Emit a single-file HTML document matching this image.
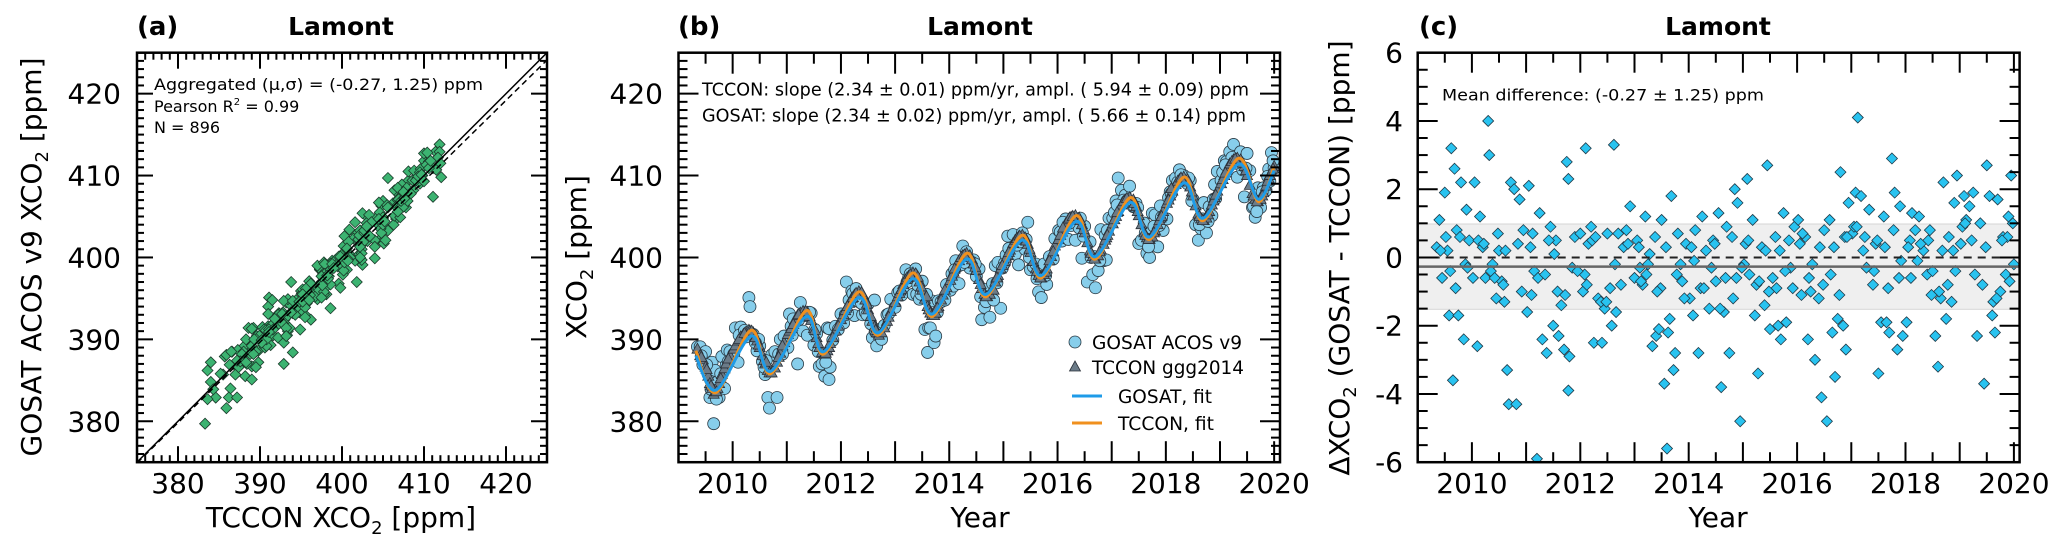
<!DOCTYPE html>
<html><head><meta charset="utf-8"><style>
html,body{margin:0;padding:0;background:#fff;}
svg{display:block;font-family:"DejaVu Sans","Liberation Sans",sans-serif;}
</style></head><body>
<svg id="fig" width="2067" height="546" viewBox="0 0 2067 546" xmlns="http://www.w3.org/2000/svg">
<defs>
<clipPath id="clipA"><rect x="137" y="52.7" width="410" height="409.5"/></clipPath>
<clipPath id="clipB"><rect x="678.5" y="52.7" width="601.5" height="409.5"/></clipPath>
<clipPath id="clipC"><rect x="1417.7" y="52.7" width="601.9" height="409.5"/></clipPath>
</defs>
<text x="137" y="35" font-size="26" font-weight="bold">(a)</text>
<text x="341" y="35" font-size="25" font-weight="bold" text-anchor="middle">Lamont</text>
<text x="678" y="35" font-size="26" font-weight="bold">(b)</text>
<text x="980" y="35" font-size="25" font-weight="bold" text-anchor="middle">Lamont</text>
<text x="1419" y="35" font-size="26" font-weight="bold">(c)</text>
<text x="1718" y="35" font-size="25" font-weight="bold" text-anchor="middle">Lamont</text>
<text transform="translate(41,257) rotate(-90)" font-size="28" text-anchor="middle">GOSAT ACOS v9 XCO<tspan font-size="18" dy="7">2</tspan><tspan dy="-7"> [ppm]</tspan></text>
<text x="341" y="527" font-size="28" text-anchor="middle">TCCON XCO<tspan font-size="18" dy="7">2</tspan><tspan dy="-7"> [ppm]</tspan></text>
<text transform="translate(586,257) rotate(-90)" font-size="28" text-anchor="middle">XCO<tspan font-size="18" dy="7">2</tspan><tspan dy="-7"> [ppm]</tspan></text>
<text x="980" y="527" font-size="28" text-anchor="middle">Year</text>
<text transform="translate(1349,258) rotate(-90)" font-size="28" text-anchor="middle">ΔXCO<tspan font-size="18" dy="7">2</tspan><tspan dy="-7"> (GOSAT - TCCON) [ppm]</tspan></text>
<text x="1718" y="527" font-size="28" text-anchor="middle">Year</text>
<g id="gA"></g><g id="gB"></g><g id="gC"></g>
</svg>
<script>
const years=[2009.35,2009.40,2009.45,2009.50,2009.55,2009.58,2009.62,2009.65,2009.68,2009.72,2009.75,2009.80,2009.85,2009.90,2009.95,2009.42,2009.60,2009.78,2009.88,
2010.02,2010.05,2010.10,2010.15,2010.20,2010.25,2010.30,2010.32,2010.38,2010.45,2010.50,2010.55,2010.60,2010.65,2010.68,2010.72,2010.78,2010.82,2010.88,2010.95,2010.12,2010.35,2010.48,2010.58,2010.85,
2011.02,2011.05,2011.10,2011.15,2011.20,2011.25,2011.30,2011.38,2011.45,2011.50,2011.55,2011.60,2011.65,2011.70,2011.75,2011.78,2011.78,2011.80,2011.90,2011.08,2011.22,2011.42,2011.58,2011.85,
2012.00,2012.05,2012.10,2012.15,2012.20,2012.25,2012.33,2012.40,2012.45,2012.50,2012.58,2012.62,2012.66,2012.70,2012.75,2012.85,2012.92,2012.08,2012.22,2012.38,2012.55,2012.80,
2013.00,2013.05,2013.10,2013.15,2013.20,2013.25,2013.33,2013.40,2013.45,2013.50,2013.55,2013.60,2013.62,2013.65,2013.68,2013.72,2013.75,2013.80,2013.88,2013.95,2013.08,2013.22,2013.38,2013.48,2013.85,
2014.02,2014.08,2014.12,2014.18,2014.25,2014.32,2014.38,2014.45,2014.50,2014.55,2014.60,2014.65,2014.70,2014.75,2014.80,2014.85,2014.90,2014.95,2014.05,2014.22,2014.42,2014.58,2014.88,
2015.02,2015.08,2015.12,2015.18,2015.22,2015.28,2015.35,2015.40,2015.45,2015.50,2015.55,2015.60,2015.65,2015.70,2015.75,2015.80,2015.88,2015.95,2015.05,2015.25,2015.42,2015.62,2015.85,
2016.02,2016.08,2016.15,2016.20,2016.25,2016.33,2016.40,2016.45,2016.50,2016.55,2016.60,2016.65,2016.70,2016.75,2016.80,2016.85,2016.90,2016.95,2016.05,2016.22,2016.42,2016.62,2016.88,
2017.02,2017.08,2017.12,2017.18,2017.25,2017.33,2017.40,2017.45,2017.50,2017.55,2017.60,2017.65,2017.70,2017.75,2017.80,2017.85,2017.90,2017.95,2017.05,2017.22,2017.42,2017.62,2017.88,
2018.02,2018.08,2018.12,2018.18,2018.25,2018.33,2018.40,2018.45,2018.50,2018.55,2018.60,2018.65,2018.70,2018.75,2018.80,2018.85,2018.90,2018.95,2018.05,2018.22,2018.42,2018.62,2018.88,
2019.02,2019.08,2019.12,2019.18,2019.25,2019.32,2019.38,2019.45,2019.50,2019.55,2019.60,2019.65,2019.70,2019.75,2019.80,2019.85,2019.90,2019.95,2020.00,2019.05,2019.22,2019.42,2019.62,2019.88,
2009.52,2009.70,2009.92,2010.22,2010.42,2010.62,2010.92,2011.12,2011.35,2011.52,2011.72,2011.95,2012.12,2012.28,2012.48,2012.64,2012.88,2013.12,2013.28,2013.42,2013.58,2013.78,2013.92,2014.10,2014.28,2014.48,2014.68,2014.82,2014.98,2015.10,2015.30,2015.48,2015.68,2015.78,2015.92,2016.10,2016.28,2016.48,2016.68,2016.78,2016.92,2017.10,2017.28,2017.48,2017.68,2017.78,2017.92,2018.10,2018.28,2018.48,2018.68,2018.78,2018.92,2019.10,2019.28,2019.48,2019.68,2019.78,2019.92,2019.98];
const tccon=[388.8,388.0,387.5,386.6,385.5,384.6,384.0,383.3,383.6,384.0,384.6,385.7,386.4,387.3,388.0,387.8,384.3,385.2,387.0,
388.8,389.2,389.8,390.3,390.6,390.9,391.1,391.0,390.8,389.8,389.0,388.0,387.0,386.2,385.9,385.9,386.5,387.2,388.3,389.6,390.0,391.0,389.3,387.4,387.8,
390.6,391.0,391.6,392.3,392.9,393.2,393.4,393.3,392.3,391.3,390.2,389.0,388.4,388.2,388.6,389.0,389.0,389.5,391.0,391.3,393.0,392.8,389.5,390.2,
392.4,393.0,393.8,394.4,395.0,395.4,395.8,395.5,394.8,393.6,392.2,391.5,390.8,390.5,390.8,392.2,393.4,393.5,395.1,395.7,392.8,391.4,
394.5,395.2,395.9,396.7,397.3,397.7,398.1,397.8,397.0,396.0,394.9,394.0,393.6,393.2,392.9,392.9,393.2,394.0,395.4,396.3,395.6,397.5,398.0,396.4,394.8,
397.2,398.2,398.8,399.6,400.2,400.5,400.2,399.2,398.4,397.3,396.2,395.5,395.2,395.5,396.2,397.0,397.8,398.6,397.7,400.0,399.7,396.7,397.5,
399.5,400.3,400.9,401.7,402.1,402.5,402.7,402.4,401.6,400.6,399.5,398.6,397.8,397.5,397.9,398.6,400.1,401.4,399.9,402.3,402.0,398.3,399.6,
402.2,403.1,404.1,404.6,404.9,405.1,404.8,404.0,403.0,401.8,400.8,400.1,399.8,400.2,400.9,401.6,402.4,403.2,402.7,404.8,404.5,400.5,402.1,
404.1,405.0,405.6,406.4,407.0,407.3,407.0,406.2,405.1,404.0,403.0,402.4,402.2,402.5,403.3,404.0,404.8,405.6,404.6,406.8,406.6,402.7,404.5,
406.6,407.5,408.1,408.9,409.5,409.8,409.5,408.6,407.5,406.3,405.3,404.7,404.5,404.8,405.6,406.4,407.3,408.1,407.0,409.3,409.2,405.0,406.9,
409.0,410.0,410.6,411.4,411.9,412.1,411.9,411.1,410.0,408.8,407.8,407.1,406.8,407.1,407.9,408.7,409.6,410.4,411.1,409.5,411.7,411.5,407.5,409.3,
386.3,383.6,387.6,390.7,390.2,387.2,389.2,391.8,393.4,391.1,388.3,391.6,394.0,395.6,394.3,391.1,392.7,396.1,397.9,397.6,395.2,393.8,396.0,398.6,400.3,398.8,395.2,396.0,399.0,400.6,402.6,401.0,397.5,398.2,400.7,403.6,405.0,403.4,399.8,400.7,402.7,405.5,407.2,405.6,402.2,403.0,405.0,408.4,409.7,408.0,404.5,405.2,407.6,410.3,412.0,410.6,406.8,407.5,410.0,410.8];
const diff=[0.3,1.1,-0.6,1.9,0.2,-1.7,3.2,-3.6,2.6,0.8,-1.7,2.2,-2.4,1.4,0.5,0.2,-0.4,0.6,-0.2,
-0.6,2.2,-2.6,1.2,0.3,-0.6,4.0,3.0,-0.2,-1.2,0.2,-0.7,-1.3,-3.3,-4.3,2.2,2.0,-4.3,1.7,0.8,0.5,-0.4,0.7,-0.8,0.4,
-1.6,2.1,-1.1,-0.4,-5.9,1.3,-2.4,-2.8,0.9,-2.0,0.5,-2.3,-1.4,-2.7,2.8,2.3,-3.9,-2.9,0.6,0.3,-0.6,0.5,-1.0,-0.3,
0.7,-1.0,3.2,0.4,0.9,-2.5,-1.2,-2.5,-1.5,0.7,-2.0,3.3,-1.6,0.7,-0.8,0.8,1.5,-0.5,0.5,-1.3,-0.9,0.3,
-0.6,0.5,-0.3,-0.8,1.2,-0.2,-2.6,-2.3,-2.1,1.1,-3.7,-5.6,-2.2,-1.8,1.8,-3.3,-2.8,0.7,-0.7,0.4,0.3,-0.5,0.6,-0.9,-0.2,
-1.2,-1.7,0.8,-2.8,1.2,0.2,-1.5,0.5,-0.7,1.3,-3.8,-1.6,0.9,-2.8,0.6,2.0,1.6,-4.8,0.3,-0.9,-0.3,-1.5,-0.6,
-0.2,2.3,-0.5,1.1,-1.7,-3.4,0.3,-1.4,2.7,-2.1,-0.6,0.6,-2.0,-2.4,1.3,-1.9,-0.3,0.9,0.4,-0.8,0.2,-0.9,0.5,
1.1,-1.1,0.6,-2.4,-1.0,-3.0,-1.2,-4.1,0.8,-4.8,1.1,-2.2,-3.5,-1.8,2.5,-2.0,-2.7,1.6,0.4,-0.6,0.3,-0.5,0.6,
0.7,1.9,4.1,1.8,0.6,1.4,-0.8,0.4,-3.4,-1.9,1.2,-1.9,-2.2,2.9,1.9,-2.7,1.5,-2.3,0.9,0.2,-0.4,0.3,-0.6,
-1.9,0.5,1.3,0.8,1.2,0.2,-0.5,0.8,-0.4,-2.3,-3.2,-1.2,2.2,-1.8,0.6,-1.3,1.6,2.4,0.3,-0.1,0.5,-1.0,0.2,
0.4,1.8,1.1,1.5,1.9,-2.3,1.0,-3.7,2.7,1.8,-1.7,-2.2,1.7,-1.0,0.6,-0.5,1.2,2.4,-0.2,0.9,0.5,-0.8,-1.3,0.6,
0.6,-0.9,-0.3,0.4,-0.6,0.2,-1.0,0.7,-0.5,0.1,-1.1,-0.4,-0.8,0.6,-1.3,-0.2,0.4,-0.7,0.1,-1.0,0.3,-0.5,-1.2,-0.1,-0.9,0.4,-0.6,-1.2,-0.3,0.5,-0.7,-1.0,0.2,-0.4,-0.9,0.7,-0.2,-0.8,0.3,-1.1,0.6,0.9,-0.3,0.5,-0.9,0.8,-0.1,-0.6,0.4,-1.1,0.2,-0.8,-0.4,1.0,-0.5,0.3,-1.2,0.5,-0.7,1.0];
const fitYears=[2009.32,2009.69,2010.34,2010.70,2011.36,2011.68,2012.33,2012.69,2013.32,2013.69,2014.32,2014.68,2015.34,2015.70,2016.34,2016.70,2017.34,2017.70,2018.33,2018.69,2019.34,2019.71,2020.0];
const tcconFit=[388.6,383.5,391.1,385.8,393.5,388.2,395.8,390.5,398.1,392.8,400.5,395.2,402.7,397.5,405.1,399.8,407.3,402.2,409.8,404.5,412.1,406.8,411.1];
const gosatFit=[388.0,383.8,390.4,386.1,392.8,388.5,395.1,390.8,397.4,393.1,399.8,395.5,402.1,397.8,404.4,400.1,406.7,402.5,409.1,404.8,411.4,407.1,410.6];
const xco2Ticks=[380,390,400,410,420];
const yearTicks=[2010,2012,2014,2016,2018,2020];
const diffTicks=[-6,-4,-2,0,2,4,6];
const meanDiff=-0.27, sdDiff=1.25;

const NS="http://www.w3.org/2000/svg";
const Y0=52.7, Y1=462.2;
function el(tag,attrs,parent,text){const e=document.createElementNS(NS,tag);for(const k in attrs)e.setAttribute(k,attrs[k]);if(text!==undefined)e.textContent=text;parent.appendChild(e);return e;}
const xA=v=>137+(v-375)*(410/50), yA=v=>Y1-(v-375)*((Y1-Y0)/50);
const xB=t=>678.5+(t-2009)*54.15, yB=yA;
const xC=t=>1417.7+(t-2009)*54.2, yC=d=>(Y0+Y1)/2-d*((Y1-Y0)/12);
function frame(g,x0,x1,name){
  const r=el('rect',{x:x0,y:Y0,width:x1-x0,height:Y1-Y0,fill:'none',stroke:'#000','stroke-width':2.5},g);
  
  
}
function tick(g,x1,y1,x2,y2){el('line',{x1:x1,y1:y1,x2:x2,y2:y2,stroke:'#000','stroke-width':2},g);}
function smooth(pts){let d='M'+pts[0][0]+','+pts[0][1];for(let i=0;i<pts.length-1;i++){const p0=pts[Math.max(0,i-1)],p1=pts[i],p2=pts[i+1],p3=pts[Math.min(pts.length-1,i+2)];
 const c1=[p1[0]+(p2[0]-p0[0])/6,p1[1]+(p2[1]-p0[1])/6],c2=[p2[0]-(p3[0]-p1[0])/6,p2[1]-(p3[1]-p1[1])/6];
 d+=' C'+c1[0]+','+c1[1]+' '+c2[0]+','+c2[1]+' '+p2[0]+','+p2[1];}return d;}
function diamond(g,cx,cy,r,fill,stroke){return el('path',{d:`M${cx},${cy-r}L${cx+r},${cy}L${cx},${cy+r}L${cx-r},${cy}Z`,fill:fill,stroke:stroke,'stroke-width':0.8},g);}

// Panel A
const gA=document.getElementById('gA');


const pA=el('g',{'clip-path':'url(#clipA)'},gA);
for(let i=0;i<years.length;i++){
  const d=diamond(pA,xA(tccon[i]),yA(tccon[i]+diff[i]),5.5,'#3cb371','#1a3a2a');
  
  
}
const one=el('line',{x1:xA(375),y1:yA(375),x2:xA(425),y2:yA(425),stroke:'#000','stroke-width':1.5},pA);


const reg=el('line',{x1:xA(375),y1:yA(374.9),x2:xA(425),y2:yA(424.1),stroke:'#000','stroke-width':1.5,'stroke-dasharray':'6,4'},pA);


for(let v=376;v<425;v++){const maj=v%10===0,L=maj?16:7;
  tick(gA,xA(v),Y1,xA(v),Y1-L);tick(gA,xA(v),Y0,xA(v),Y0+L);
  tick(gA,137,yA(v),137+L,yA(v));tick(gA,547,yA(v),547-L,yA(v));}
xco2Ticks.forEach(v=>{
  const t1=el('text',{x:xA(v),y:493,'font-size':28,'text-anchor':'middle'},gA,String(v));
  
  
  const t2=el('text',{x:121,y:yA(v)+10,'font-size':28,'text-anchor':'end'},gA,String(v));
  
  
});
frame(gA,137,547,'panel-a-frame');
const annA=el('g',{'font-size':16},gA);


el('text',{x:154,y:90,textLength:329,lengthAdjust:'spacingAndGlyphs'},annA,'Aggregated (μ,σ) = ('+meanDiff.toFixed(2)+', '+sdDiff.toFixed(2)+') ppm');
const t2=el('text',{x:154,y:112},annA,'Pearson R');el('tspan',{dy:-7,'font-size':10},t2,'2');el('tspan',{dy:7},t2,' = 0.99');
el('text',{x:154,y:133},annA,'N =  896');

// Panel B
const gB=document.getElementById('gB');


const pB=el('g',{'clip-path':'url(#clipB)'},gB);
for(let i=0;i<years.length;i++){
  const c=el('circle',{cx:xB(years[i]),cy:yB(tccon[i]+diff[i]),r:6,fill:'#87ceeb',stroke:'#2a3a44','stroke-width':0.8},pB);
  
  
}
for(let i=0;i<years.length;i++){
  const x=xB(years[i]),y=yB(tccon[i]);
  const p=el('path',{d:`M${x},${y-6}L${x+5.5},${y+4}L${x-5.5},${y+4}Z`,fill:'#6b7b88',stroke:'#2a3038','stroke-width':0.8},pB);
  
  
}
const fo=el('path',{d:smooth(fitYears.map((t,i)=>[xB(t),yB(tcconFit[i])])),fill:'none',stroke:'#f0901e','stroke-width':3},pB);


const fb=el('path',{d:smooth(fitYears.map((t,i)=>[xB(t),yB(gosatFit[i])])),fill:'none',stroke:'#1e9be8','stroke-width':3},pB);


for(let v=376;v<425;v++){const maj=v%10===0,L=maj?20:9;
  tick(gB,678.5,yB(v),678.5+L,yB(v));tick(gB,1280,yB(v),1280-L,yB(v));}
for(let h=2009.5;h<2020.1;h+=0.5){const maj=Math.abs(h-Math.round(h))<0.01,L=maj?21:11;
  tick(gB,xB(h),Y1,xB(h),Y1-L);tick(gB,xB(h),Y0,xB(h),Y0+L);}
yearTicks.forEach(v=>{
  const t=el('text',{x:xB(v),y:493,'font-size':28,'text-anchor':'middle'},gB,String(v));
  
  
});
xco2Ticks.forEach(v=>{
  const t=el('text',{x:663,y:yB(v)+10,'font-size':28,'text-anchor':'end'},gB,String(v));
  
  
});
frame(gB,678.5,1280,'panel-b-frame');
const annB=el('g',{'font-size':18},gB);


el('rect',{x:700,y:79,width:552,height:50,fill:'#fff'},annB);
el('text',{x:702,y:95.5,textLength:547,lengthAdjust:'spacingAndGlyphs'},annB,'TCCON: slope (2.34 ± 0.01) ppm/yr, ampl. ( 5.94 ± 0.09) ppm');
el('text',{x:702,y:121.5,textLength:544,lengthAdjust:'spacingAndGlyphs'},annB,'GOSAT: slope (2.34 ± 0.02) ppm/yr, ampl. ( 5.66 ± 0.14) ppm');
const leg=el('g',{'font-size':19},gB);


const l1=el('circle',{cx:1075,cy:342,r:6,fill:'#87ceeb',stroke:'#2a3a44','stroke-width':0.8},leg);


el('text',{x:1092,y:349,textLength:150,lengthAdjust:'spacingAndGlyphs'},leg,'GOSAT ACOS v9');
el('path',{d:'M1075,361L1080.5,371L1069.5,371Z',fill:'#6b7b88',stroke:'#2a3038','stroke-width':0.8},leg);
el('text',{x:1092,y:374,textLength:152,lengthAdjust:'spacingAndGlyphs'},leg,'TCCON ggg2014');
el('line',{x1:1072,y1:396,x2:1102,y2:396,stroke:'#1e9be8','stroke-width':3},leg);
el('text',{x:1118,y:403,textLength:94,lengthAdjust:'spacingAndGlyphs'},leg,'GOSAT, fit');
el('line',{x1:1072,y1:423,x2:1102,y2:423,stroke:'#f0901e','stroke-width':3},leg);
el('text',{x:1118,y:430,textLength:96,lengthAdjust:'spacingAndGlyphs'},leg,'TCCON, fit');

// Panel C
const gC=document.getElementById('gC');


const pC=el('g',{'clip-path':'url(#clipC)'},gC);
const band=el('rect',{x:1417.7,y:yC(meanDiff+sdDiff),width:602,height:yC(meanDiff-sdDiff)-yC(meanDiff+sdDiff),fill:'#efefef',stroke:'#d6d6d6','stroke-width':1},pC);


for(let i=0;i<years.length;i++){
  const d=diamond(pC,xC(years[i]),yC(diff[i]),5.5,'#29c3f0','#1f3a48');
  
  
}
const zl=el('line',{x1:1417.7,y1:yC(0),x2:2019.6,y2:yC(0),stroke:'#222','stroke-width':2,'stroke-dasharray':'8,6'},pC);


const ml=el('line',{x1:1417.7,y1:yC(meanDiff),x2:2019.6,y2:yC(meanDiff),stroke:'#666','stroke-width':2.5},pC);


for(let v=-5.5;v<6;v+=0.5){const maj=Math.abs(v%2)<0.01,L=maj?20:10;
  tick(gC,1417.7,yC(v),1417.7+L,yC(v));tick(gC,2019.6,yC(v),2019.6-L,yC(v));}
for(let h=2009.5;h<2020.1;h+=0.5){const maj=Math.abs(h-Math.round(h))<0.01,L=maj?20:10;
  tick(gC,xC(h),Y1,xC(h),Y1-L);tick(gC,xC(h),Y0,xC(h),Y0+L);}
yearTicks.forEach(v=>{
  const t=el('text',{x:xC(v),y:493,'font-size':28,'text-anchor':'middle'},gC,String(v));
  
  
});
diffTicks.forEach(v=>{
  const t=el('text',{x:1403,y:yC(v)+10,'font-size':28,'text-anchor':'end'},gC,String(v));
  
  
});
frame(gC,1417.7,2019.6,'panel-c-frame');
const annC=el('text',{x:1442,y:100.7,'font-size':16,textLength:322,lengthAdjust:'spacingAndGlyphs'},gC,'Mean difference: ('+meanDiff.toFixed(2)+' ± '+sdDiff.toFixed(2)+') ppm');


</script>
</body></html>
